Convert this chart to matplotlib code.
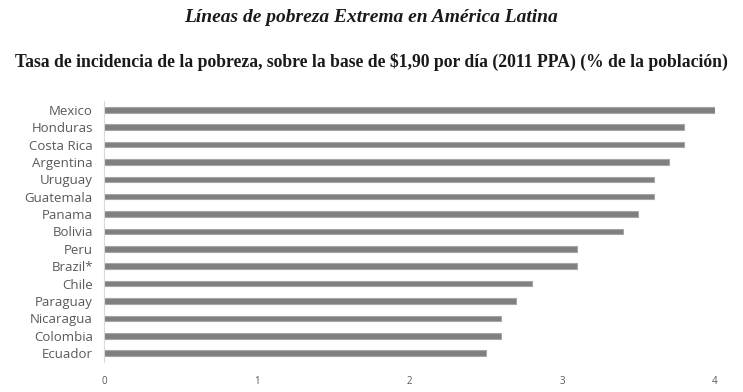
import matplotlib.pyplot as plt

paises = ['Mexico', 'Honduras', 'Costa Rica', 'Argentina', 'Uruguay', 'Guatemala',
          'Panama', 'Bolivia', 'Peru', 'Brazil*', 'Chile', 'Paraguay',
          'Nicaragua', 'Colombia', 'Ecuador']
tasa = [4.0, 3.8, 3.8, 3.7, 3.6, 3.6, 3.5, 3.4, 3.1, 3.1, 2.8, 2.7, 2.6, 2.6, 2.5]
ticks_x = [0, 1, 2, 3, 4]

fig = plt.figure(figsize=(7.43, 3.92), dpi=100)
ax = fig.add_axes([0.14, 0.077, 0.822, 0.665])

# orden invertido para que Mexico quede arriba
pos = list(range(len(paises)))[::-1]
ax.barh(pos, tasa, height=0.32, color='#7f7f7f', edgecolor='#a6a6a6', linewidth=0.8)

ax.set_xlim(0, 4)
ax.set_ylim(-0.5, len(paises) - 0.5)
ax.set_yticks(pos)
ax.set_yticklabels(paises, fontsize=9.5, color='#595959', family='Open Sans')
ax.set_xticks(ticks_x)
ax.set_xticklabels([str(t) for t in ticks_x], fontsize=7, color='#595959', family='Open Sans')
ax.tick_params(axis='both', length=0)
ax.tick_params(axis='y', pad=8)
ax.tick_params(axis='x', pad=10)

for lado in ['top', 'right', 'bottom']:
    ax.spines[lado].set_visible(False)
ax.spines['left'].set_color('#d9d9d9')
ax.spines['left'].set_linewidth(0.8)

fig.text(0.5, 0.955, 'Líneas de pobreza Extrema en América Latina', ha='center', va='center',
         fontsize=14, style='italic', fontweight='bold', family='Liberation Serif', color='#1a1a1a')
fig.text(0.5, 0.842, 'Tasa de incidencia de la pobreza, sobre la base de $1,90 por día (2011 PPA) (% de la población)',
         ha='center', va='center', fontsize=12.7, fontweight='bold', family='Liberation Serif', color='#1a1a1a')

fig.savefig('out.png', dpi=100)
